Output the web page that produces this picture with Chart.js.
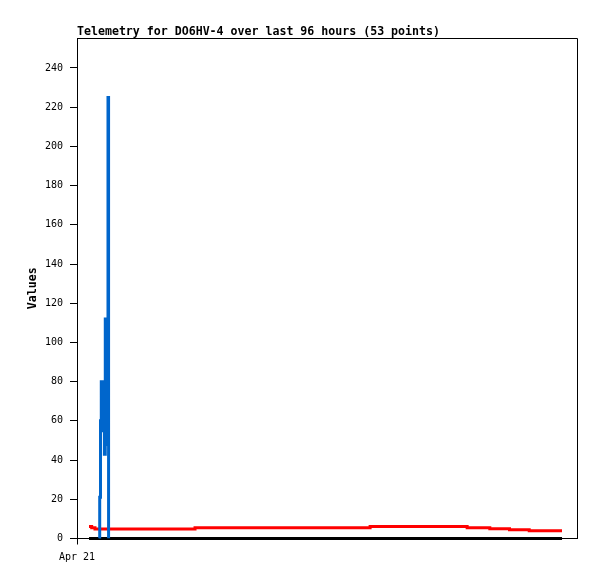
<!DOCTYPE html>
<html lang="en">
<head>
    <meta charset="UTF-8">
    <title>Telemetry DO6HV-4</title>
    <script src="https://cdn.jsdelivr.net/npm/chart.js"></script>
    <style>
        html, body { margin: 0; padding: 0; background: #fff; }
        #wrap { width: 597px; height: 579px; }
    </style>
</head>
<body>
    <div id="wrap"><canvas id="grafico" width="597" height="579"></canvas></div>

    <script>
        // x values are hours from the left edge of the axis
        const titleText = 'Telemetry for DO6HV-4 over last 96 hours (53 points)';
        const yTitle = 'Values';
        const yTicks = [0, 20, 40, 60, 80, 100, 120, 140, 160, 180, 200, 220, 240];
        const xTicks = [0];
        const xTickLabels = ['Apr 21'];

        const redHours = [2.44, 2.98, 3.65, 23.96, 59.5, 79.2, 83.8, 87.8, 91.8, 98.46];
        const redValues = [6.1, 5.5, 4.9, 5.5, 6.1, 5.5, 5.0, 4.5, 4.0, 4.0];

        const blueHours = [4.47, 4.61, 4.77, 4.93, 5.08, 5.20, 5.32, 5.44, 5.56, 5.74, 5.95, 6.13, 6.29, 6.41];
        const blueValues = [0, 21, 60, 80, 62, 72, 55, 80, 43, 112, 48, 112, 225, 0];

        const blackHours = [2.44, 98.46];
        const blackValues = [0, 0];

        const pts = (xs, ys) => xs.map((x, i) => ({ x: x, y: ys[i] }));

        // marco y título
        const framePlugin = {
            id: 'frame',
            afterDraw(chart) {
                const c = chart.ctx;
                const a = chart.chartArea;
                c.save();
                c.strokeStyle = '#000';
                c.lineWidth = 1;
                c.beginPath();
                c.moveTo(a.left, a.top + 0.5);
                c.lineTo(a.right + 0.5, a.top + 0.5);
                c.lineTo(a.right + 0.5, a.bottom);
                c.stroke();
                c.fillStyle = '#000';
                c.font = 'bold 11.6px "DejaVu Sans Mono"';
                c.textBaseline = 'alphabetic';
                c.fillText(titleText, a.left, 35);
                c.restore();
            }
        };

        const ctx = document.getElementById('grafico').getContext('2d');
        const chart = new Chart(ctx, {
            type: 'line',
            data: {
                datasets: [
                    {
                        data: pts(blueHours, blueValues),
                        borderColor: '#0066cc',
                        borderWidth: 3,
                        stepped: true,
                        pointRadius: 0,
                        fill: false,
                        order: 0
                    },
                    {
                        data: pts(redHours, redValues),
                        borderColor: '#ff0000',
                        borderWidth: 3,
                        stepped: true,
                        pointRadius: 0,
                        fill: false,
                        order: 1
                    },
                    {
                        data: pts(blackHours, blackValues),
                        borderColor: '#000000',
                        borderWidth: 3,
                        pointRadius: 0,
                        fill: false,
                        clip: false,
                        order: 2
                    }
                ]
            },
            options: {
                responsive: false,
                animation: false,
                layout: { padding: { top: 38, right: 20, left: 0, bottom: 0 } },
                plugins: {
                    legend: { display: false },
                    tooltip: { enabled: false }
                },
                scales: {
                    x: {
                        type: 'linear',
                        min: 0,
                        max: 101.5,
                        afterFit: s => { s.height = 40.5; },
                        afterBuildTicks: s => { s.ticks = xTicks.map(v => ({ value: v })); },
                        grid: { drawOnChartArea: false, color: '#000', tickLength: 6 },
                        border: { color: '#000', width: 1 },
                        ticks: {
                            color: '#000',
                            padding: 7,
                            maxRotation: 0,
                            font: { family: 'DejaVu Sans Mono', size: 10 },
                            callback: (v) => xTickLabels[xTicks.indexOf(v)]
                        }
                    },
                    y: {
                        min: 0,
                        max: 255.3,
                        afterFit: s => { s.width = 77; },
                        afterBuildTicks: s => { s.ticks = yTicks.map(v => ({ value: v })); },
                        grid: { drawOnChartArea: false, color: '#000', tickLength: 7 },
                        border: { color: '#000', width: 1 },
                        title: {
                            display: true,
                            text: yTitle,
                            color: '#000',
                            padding: { top: 26, bottom: 0 },
                            font: { family: 'DejaVu Sans Mono', size: 11.6, weight: 'bold' }
                        },
                        ticks: {
                            color: '#000',
                            padding: 7,
                            font: { family: 'DejaVu Sans Mono', size: 10 }
                        }
                    }
                }
            },
            plugins: [framePlugin]
        });
    </script>
</body>
</html>
